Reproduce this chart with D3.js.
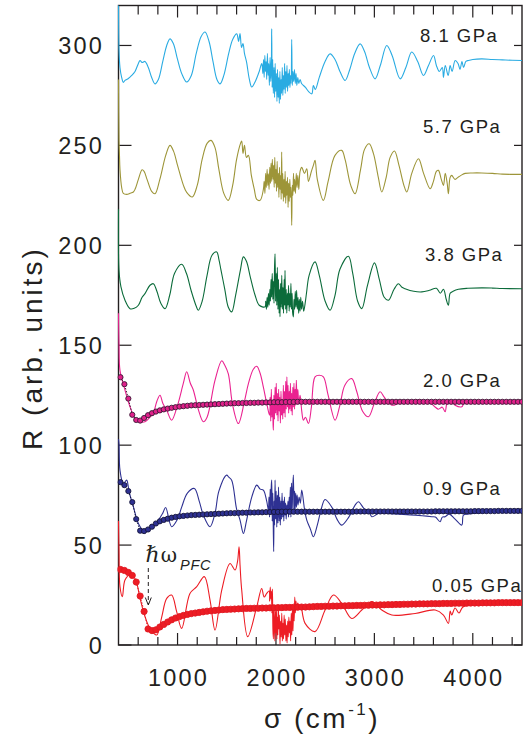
<!DOCTYPE html>
<html>
<head>
<meta charset="utf-8">
<script src="https://cdn.jsdelivr.net/npm/d3@7"></script>
<style>
  html, body { margin: 0; padding: 0; background: #fff; }
  svg { display: block; font-family: "Liberation Sans", Arial, sans-serif; }
</style>
</head>
<body>
<div id="chart"></div>
<script>
'use strict';

// measured reflectance, [sigma (cm-1), R]
var r81 = [[400,325],[405,298],[415,289],[432,284],[449,281.5],[466,282.5],[500,283.5],[534,285],[568,287],[602,291],[619,292.5],[640,291.5],[669,292],[703,289],[737,284],[771,280.8],[805,283],[850,292],[890,300],[923,303.3],[957,301],[1000,293],[1042,286],[1093,281.7],[1140,285],[1190,296],[1240,304.5],[1279,306.7],[1320,302],[1360,292],[1400,283],[1432,280.8],[1470,285],[1520,296],[1560,303],[1602,305.8],[1620,302],[1635,306],[1650,299],[1665,301],[1680,296],[1700,292],[1730,283],[1754,279.2],[1790,282],[1830,287],[1855,291],
  [1860,290],[1867,286],[1874,293],[1880,284],[1887,295],[1893,287],[1900,292],[1906,283],[1913,296],[1920,285],[1927,291],[1933,280],[1940,294],[1947,282],[1953,290],[1957,308.3],[1961,279],[1967,293],[1973,276],[1980,289],[1986,274],[1992,291],[1998,277],[2004,286],[2010,272],[2016,288],[2022,274],[2028,284],[2034,271],[2040,287],[2046,273],[2052,283],[2058,276],[2064,289],[2070,275],[2076,285],[2082,278],[2088,291],[2094,276],[2100,287],[2106,279],[2112,290],[2118,277],[2124,286],[2130,280],[2136,288],[2142,279],[2148,285],[2154,281],[2160,303],[2166,280],[2172,287],[2180,282],[2188,288],[2196,281],[2204,286],[2212,280],[2222,284],[2232,281],[2245,283],
  [2260,281],[2300,279],[2330,277],[2364,275.8],[2380,280],[2400,278],[2440,284],[2499,292],[2550,295.8],[2600,293],[2650,287],[2703,282.5],[2750,288],[2800,296],[2855,300.8],[2900,297],[2950,289],[3007,283.3],[3060,290],[3126,300],[3180,295],[3262,283.3],[3320,289],[3380,296.7],[3440,292],[3499,285],[3550,290],[3601,295],[3630,290],[3660,287],[3690,289],[3702,284],[3720,290],[3750,285],[3770,290],[3790,287],[3821,292.5],[3850,291],[3870,288],[3890,292],[3906,289],[3930,292],[3956,292.5],[4000,293],[4091,293.3],[4200,293],[4300,292.8],[4400,292.6],[4505,292.5]];

var r57 = [[400,283],[405,252.5],[410,245],[415,238],[432,229],[449,226],[483,225.5],[517,226],[551,226.7],[568,228],[602,233],[640,237.8],[660,237],[690,233],[737,227],[771,225.8],[820,233],[880,245],[923,250],[960,247],[1000,240],[1060,230],[1093,226.5],[1150,224.2],[1200,230],[1250,243],[1300,251],[1340,252.5],[1380,249],[1420,238],[1470,226],[1516,222.5],[1560,230],[1600,243],[1640,251],[1652,252.2],[1665,246],[1680,250],[1700,244],[1720,245],[1750,235],[1780,228],[1805,223],[1839,222.5],
  [1872,228],[1880,232],[1888,226],[1895,236],[1902,229],[1910,238],[1917,230],[1923,235.8],[1930,228],[1937,239],[1944,231],[1950,241],[1957,232],[1963,243],[1970,233],[1976,240],[1982,229],[1988,244],[1994,231],[2000,238],[2006,227],[2012,242],[2018,229],[2024,236],[2030,224],[2036,239],[2042,228],[2048,235],[2053,223],[2058,246.7],[2063,226],[2069,236],[2075,222],[2081,233],[2087,224],[2093,237],[2099,221],[2105,232],[2111,225],[2117,234],[2123,219],[2129,231],[2135,222],[2141,233],[2147,224],[2153,229],[2160,210],[2166,230],[2172,225],[2178,236],[2184,227],[2190,233],[2198,226],[2206,236],[2214,229],[2222,235],[2232,228],[2245,237],
  [2262,239],[2290,236],[2313,238.3],[2330,232],[2360,237],[2380,240],[2397,242.5],[2420,233],[2482,222.5],[2530,232],[2600,245],[2668,247.5],[2702,243],[2760,230],[2804,225.8],[2860,238],[2900,248],[2947,250.8],[2990,246],[3040,234],[3075,226.7],[3120,234],[3160,244],[3204,247.2],[3250,240],[3300,230],[3330,226.7],[3380,236],[3448,243.3],[3500,236],[3567,228.3],[3600,232],[3630,237],[3651,237.5],[3680,233],[3702,230],[3720,236],[3740,231],[3752,225.8],[3770,234],[3786,235],[3820,233],[3854,234.2],[3880,235],[3922,236],[4000,236.2],[4091,236.2],[4200,236],[4300,235.6],[4400,235.5],[4505,235.5]];

var r38 = [[400,218],[405,187.5],[425,179.2],[466,172.5],[517,168.3],[560,168.5],[602,170],[640,174],[669,175.8],[720,180],[754,180.8],[790,177],[830,171],[873,168.3],[920,175],[970,186],[1042,190.5],[1090,186],[1140,177],[1190,169.5],[1211,167.5],[1250,172],[1300,185],[1350,195],[1398,196.7],[1420,193],[1440,188],[1480,178],[1516,169],[1550,166.7],[1590,175],[1640,188],[1669,194.2],[1700,192],[1740,184],[1788,175],[1830,170],
  [1889,169.2],[1896,172],[1903,168],[1910,174],[1917,169],[1924,176],[1931,170],[1938,178],[1944,172],[1950,183],[1956,174],[1962,186],[1968,173],[1974,182],[1980,171],[1986,190],[1991,195.8],[1996,172],[2002,186],[2008,170],[2014,189],[2020,168],[2026,183],[2032,166],[2038,178],[2041,164.2],[2047,181],[2053,169],[2059,185],[2065,168],[2071,179],[2077,166],[2083,183],[2089,170],[2092,187.5],[2098,168],[2104,178],[2110,166],[2116,176],[2122,170],[2128,180],[2134,167],[2140,176],[2146,169],[2152,181],[2158,168],[2164,176],[2170,166],[2177,164.2],[2183,173],[2190,168],[2196,177],[2203,169],[2210,177.5],[2217,168],[2224,174],[2231,166],[2238,173],[2245,167],[2252,174],[2260,168],[2270,172],[2282,167],[2296,170.8],
  [2310,176],[2337,185],[2397,191.7],[2440,185],[2500,172],[2550,167.5],[2600,175],[2650,188],[2736,194.5],[2780,186],[2830,172],[2872,168.3],[2930,180],[3001,191.2],[3050,183],[3100,174],[3143,172.5],[3200,178],[3244,180.8],[3280,179],[3312,178.3],[3400,177],[3482,176.7],[3560,177.5],[3630,178.5],[3670,176],[3702,178],[3730,173],[3752,170],[3770,176],[3800,177],[3854,178],[3950,178.5],[4091,178.7],[4200,178.6],[4300,178.4],[4505,178.3]];

var r20 = [[400,166],[405,150.8],[415,137.5],[466,127.5],[517,119.2],[568,113.3],[600,112],[669,111.7],[720,114],[754,116],[790,122],[822,125],[850,121],[890,117.5],[940,112.5],[1000,120],[1059,131],[1093,136.7],[1130,131],[1161,127.5],[1210,118],[1262,111.7],[1300,114],[1381,132.5],[1449,142.2],[1480,140],[1516,135.7],[1560,120],[1618,110.8],[1680,122],[1720,130.8],[1770,138],[1805,139.5],[1839,136],[1872,129],[1910,120],
  [1935,115],[1941,124],[1947,112],[1953,128],[1959,114],[1965,122],[1971,110],[1974,107.5],[1979,125],[1985,113],[1991,129],[1997,116],[2003,131],[2009,115],[2015,126],[2021,112],[2027,128],[2033,117],[2039,124],[2045,111],[2051,127],[2057,115],[2063,123],[2069,113],[2075,130],[2081,116],[2087,127],[2093,114],[2099,132],[2105,118],[2111,134.2],[2117,119],[2123,130],[2129,116],[2135,127],[2141,118],[2147,131],[2153,117],[2159,126],[2165,115],[2171,129],[2177,119],[2183,131],[2189,118],[2195,128],[2201,120],[2207,132.5],[2214,122],[2222,128],[2232,121],[2245,125],[2262,117],
  [2279,112.5],[2300,114],[2330,110.8],[2360,119],[2397,134.2],[2440,135],[2482,134.2],[2530,125],[2601,112.5],[2650,120],[2700,130],[2770,133.3],[2820,127],[2880,117],[2940,114.2],[3000,121],[3058,126.7],[3100,124],[3177,120],[3250,121],[3312,121.7],[3400,122.5],[3482,122.5],[3560,121.5],[3620,119],[3651,118],[3690,119],[3719,116.7],[3740,121],[3786,121.7],[3820,120],[3888,119.2],[3910,121],[3956,122.2],[4100,122.2],[4300,122.2],[4505,122.2]];

var r09 = [[400,103],[405,100.8],[415,87.5],[449,80.8],[483,82.5],[500,79],[517,75],[551,69.2],[602,60.8],[652,57.5],[700,58],[737,59],[805,62.5],[850,66],[879,68.8],[940,59.2],[1000,63],[1042,69],[1100,76],[1171,78.3],[1220,72],[1262,65],[1330,59.2],[1381,66],[1420,77],[1499,85],[1520,84],[1550,82.5],[1600,68],[1635,62.5],[1669,55.8],[1700,62],[1754,74],[1805,80],[1840,78],[1872,77.5],[1906,72],
  [1923,67.5],[1929,74],[1935,64],[1941,78],[1947,66],[1953,80],[1957,82.5],[1962,62],[1968,76],[1973,58],[1977,46.7],[1981,72],[1986,60],[1991,82.5],[1996,63],[2002,77],[2008,59],[2014,75],[2020,61],[2026,79],[2032,62],[2038,74],[2044,60],[2050,72],[2056,63],[2062,76],[2068,64],[2074,72],[2080,62],[2086,74],[2092,65],[2098,71],[2104,63],[2110,70],[2116,66],[2122,72],[2128,64],[2134,74],[2140,66],[2146,79],[2152,64],[2158,81],[2164,67],[2170,78],[2177,85],[2183,66],[2189,77],[2195,68],[2201,76],[2208,69],[2215,75],[2224,70],[2235,74],[2248,71],[2262,77.5],
  [2290,68],[2313,62.5],[2350,58],[2380,54.2],[2420,60],[2460,68],[2499,72.8],[2567,69],[2620,63],[2668,60],[2740,64],[2804,70],[2838,71.7],[2900,68],[2940,67.5],[2974,64.2],[3050,66],[3143,65.8],[3250,65.5],[3414,65],[3584,64.2],[3620,64],[3668,61.7],[3690,64],[3719,64.2],[3760,65.5],[3820,63],[3888,60],[3905,65],[3950,65.5],[4050,66],[4200,66.5],[4350,66.7],[4505,66.7]];

var r005 = [[400,62],[405,47.5],[415,29.2],[439,24.2],[466,32.5],[517,35],[568,33.3],[619,23.3],[669,14.2],[720,8.3],[788,5],[839,14],[890,23.3],[940,25],[991,16.7],[1042,8.3],[1126,25.8],[1195,29.2],[1272,34.2],[1330,22.5],[1381,7.5],[1449,27.5],[1533,40.8],[1584,37.5],[1610,42],[1625,49.2],[1635,40],[1652,27.5],[1713,4.2],[1805,19.2],[1855,28.3],[1880,24],[1906,25.8],
  [1930,27],[1936,22],[1942,29],[1948,23],[1954,27],[1959,16],[1964,28],[1969,8],[1974,3],[1979,20],[1984,10],[1989,2],[1994,17],[1999,6],[2004,19],[2009,3],[2014,14],[2019,5],[2024,20],[2029,8],[2035,15],[2041,0.5],[2047,12],[2053,4],[2059,16],[2065,2],[2071,11],[2077,3],[2083,15],[2089,5],[2095,13],[2101,2],[2107,10],[2113,1],[2119,12],[2125,4],[2131,14],[2137,6],[2143,12],[2149,2],[2155,16],[2161,5],[2167,18],[2173,7],[2179,20],[2185,12],[2191,24],[2197,16],[2203,22],[2211,18],[2222,21],[2235,19],[2250,20],
  [2296,10.8],[2397,6.7],[2499,17.5],[2584,25],[2668,20.8],[2770,13.3],[2872,17.5],[2974,21.7],[3075,17.5],[3177,15],[3414,15.8],[3618,17.5],[3702,15],[3752,10.8],[3770,17],[3786,15],[3820,18.5],[3860,16],[3900,19],[4091,20],[4300,20.8],[4505,21.2]];

// Drude-Lorentz fits, sampled every 40 cm-1 from 420 cm-1
var fitStart = 420, fitStep = 40;
var fit20 = [134.0,130.5,123.3,115.2,112.6,112.3,113.6,115.0,116.0,116.8,
  117.4,117.9,118.3,118.7,119.0,119.3,119.5,119.7,119.9,120.0,
  120.1,120.2,120.3,120.4,120.5,120.6,120.7,120.8,120.9,121.0,
  121.0,121.1,121.1,121.2,121.2,121.3,121.3,121.4,121.4,121.5,
  121.5,121.5,121.6,121.6,121.6,121.7,121.7,121.7,121.7,121.7,
  121.7,121.7,121.7,121.7,121.7,121.7,121.7,121.7,121.7,121.7,
  121.7,121.7,121.7,121.7,121.7,121.7,121.7,121.7,121.7,121.7,
  121.7,121.7,121.7,121.7,121.7,121.7,121.7,121.7,121.7,121.7,
  121.7,121.7,121.7,121.7,121.7,121.7,121.7,121.7,121.7,121.7,
  121.7,121.7,121.7,121.7,121.7,121.7,121.7,121.7,121.7,121.7,
  121.7,121.7,121.7];
var fit09 = [81.5,80.0,77.0,71.5,63.0,57.2,57.0,57.8,59.2,60.8,
  61.9,62.6,63.2,63.7,64.1,64.4,64.6,64.8,65.0,65.1,
  65.2,65.3,65.4,65.5,65.6,65.7,65.8,65.9,66.0,66.0,
  66.1,66.2,66.2,66.3,66.3,66.4,66.4,66.5,66.5,66.6,
  66.6,66.7,66.7,66.7,66.7,66.7,66.7,66.7,66.7,66.7,
  66.7,66.7,66.7,66.7,66.7,66.7,66.7,66.7,66.7,66.7,
  66.8,66.8,66.8,66.8,66.8,66.8,66.8,66.8,66.8,66.8,
  66.8,66.8,66.8,66.8,66.8,66.8,66.8,66.8,66.8,66.8,
  66.9,66.9,66.9,66.9,66.9,66.9,66.9,66.9,66.9,66.9,
  67.0,67.0,67.0,67.0,67.0,67.0,67.1,67.1,67.1,67.1,
  67.1,67.1,67.1];
var fit005 = [37.8,37.3,36.3,34.8,31.5,24.5,16.8,8.0,7.2,7.6,
  9.0,10.3,11.5,12.6,13.5,14.2,14.8,15.3,15.7,16.0,
  16.3,16.6,16.9,17.1,17.3,17.5,17.7,17.8,17.9,18.0,
  18.1,18.2,18.3,18.3,18.4,18.4,18.5,18.5,18.6,18.6,
  18.7,18.7,18.8,18.8,18.9,18.9,19.0,19.0,19.1,19.2,
  19.3,19.3,19.4,19.4,19.5,19.5,19.6,19.6,19.7,19.7,
  19.8,19.8,19.9,19.9,20.0,20.0,20.1,20.1,20.2,20.2,
  20.3,20.3,20.4,20.4,20.5,20.5,20.6,20.6,20.6,20.7,
  20.7,20.7,20.8,20.8,20.8,20.9,20.9,20.9,21.0,21.0,
  21.0,21.0,21.1,21.1,21.1,21.1,21.2,21.2,21.2,21.2,
  21.2,21.2,21.2];

var series = [
  { data: r81,  color: '#29abe2', label: '8.1 GPa',  lx: 420, ly: 41.5 },
  { data: r57,  color: '#9d9538', label: '5.7 GPa',  lx: 423, ly: 133 },
  { data: r38,  color: '#0b6b3a', label: '3.8 GPa',  lx: 425, ly: 260.5 },
  { data: r20,  color: '#ea2290', label: '2.0 GPa',  lx: 423, ly: 386.5 },
  { data: r09,  color: '#2e3192', label: '0.9 GPa',  lx: 423, ly: 495 },
  { data: r005, color: '#ed1c24', label: '0.05 GPa', lx: 432, ly: 591.5 }
];
var fits = [
  { data: fit20,  fill: '#e0208a', stroke: '#3a1a35', r: 2.6 },
  { data: fit09,  fill: '#2e3192', stroke: '#15153a', r: 2.6 },
  { data: fit005, fill: '#ed1c24', stroke: '#e01a22', r: 3.1 }
];

var xTicks = [1000, 2000, 3000, 4000];
var yTicks = [0, 50, 100, 150, 200, 250, 300];

var W = 523, H = 741;
var pLeft = 118.5, pRight = 522, pTop = 5.5, pBottom = 645;
var ink = '#231f20';

var svg = d3.select('#chart').append('svg')
  .attr('width', W).attr('height', H);

var x = d3.scaleLinear().domain([400, 4500]).range([pLeft, pRight]);
var y = d3.scaleLinear().domain([0, 320]).range([pBottom, pTop]);

svg.append('defs').append('clipPath').attr('id', 'plot')
  .append('rect')
    .attr('x', pLeft - 1).attr('y', pTop)
    .attr('width', pRight - pLeft + 1).attr('height', pBottom - pTop);

// frame
var axes = svg.append('g').attr('stroke', ink).attr('fill', 'none');
axes.append('rect')
  .attr('x', pLeft).attr('y', pTop)
  .attr('width', pRight - pLeft).attr('height', pBottom - pTop)
  .attr('stroke-width', 1.4);

// x ticks, top and bottom, pointing inward
var xMinor = d3.range(600, 4500, 200);
xMinor.forEach(function (v) {
  var major = v % 1000 === 0, len = major ? 12 : 8;
  axes.append('line').attr('x1', x(v)).attr('x2', x(v))
    .attr('y1', pBottom).attr('y2', pBottom - len).attr('stroke-width', 1.2);
  axes.append('line').attr('x1', x(v)).attr('x2', x(v))
    .attr('y1', pTop).attr('y2', pTop + (major ? 12 : 9)).attr('stroke-width', 1.2);
});
yTicks.forEach(function (v) {
  axes.append('line').attr('x1', pLeft).attr('x2', pLeft + 13)
    .attr('y1', y(v)).attr('y2', y(v)).attr('stroke-width', 1.2);
  axes.append('line').attr('x1', pRight).attr('x2', pRight - 8)
    .attr('y1', y(v)).attr('y2', y(v)).attr('stroke-width', 1.2);
});

// tick labels
svg.append('g').selectAll('text').data(xTicks).enter().append('text')
  .attr('x', function (d) { return x(d) + 1; })
  .attr('y', 686)
  .attr('text-anchor', 'middle')
  .attr('font-size', 23.5).attr('letter-spacing', 2.2)
  .attr('fill', ink)
  .text(function (d) { return d; });

svg.append('g').selectAll('text').data(yTicks).enter().append('text')
  .attr('x', 104)
  .attr('y', function (d) { return y(d) + 8.5; })
  .attr('text-anchor', 'end')
  .attr('font-size', 23.5).attr('letter-spacing', 2.2)
  .attr('fill', ink)
  .text(function (d) { return d; });

// axis titles
svg.append('text')
  .attr('transform', 'translate(42,348) rotate(-90)')
  .attr('text-anchor', 'middle')
  .attr('font-size', 28).attr('letter-spacing', 3)
  .attr('fill', ink)
  .text('R (arb. units)');

var xt = svg.append('text')
  .attr('x', 322).attr('y', 728)
  .attr('text-anchor', 'middle')
  .attr('font-size', 28).attr('letter-spacing', 2.5)
  .attr('fill', ink);
xt.append('tspan').text('σ (cm');
xt.append('tspan').attr('font-size', 17).attr('dy', -13).text('-1');
xt.append('tspan').attr('dy', 13).text(')');

// curves
var plot = svg.append('g').attr('clip-path', 'url(#plot)');
var line = d3.line()
  .x(function (d) { return x(d[0]); })
  .y(function (d) { return y(d[1]); })
  .curve(d3.curveCatmullRom.alpha(0.5));

series.forEach(function (s) {
  plot.append('path')
    .attr('d', line(s.data))
    .attr('fill', 'none')
    .attr('stroke', s.color)
    .attr('stroke-width', 1.1);
});

// fits: dark dotted line with circles
fits.forEach(function (f) {
  var pts = f.data.map(function (v, i) { return [fitStart + i * fitStep, v]; });
  plot.append('path')
    .attr('d', d3.line().x(function (d) { return x(d[0]); }).y(function (d) { return y(d[1]); })(pts))
    .attr('fill', 'none')
    .attr('stroke', f.stroke)
    .attr('stroke-width', 1)
    .attr('stroke-dasharray', '1.5,1.5');
  plot.append('g').selectAll('circle').data(pts).enter().append('circle')
    .attr('cx', function (d) { return x(d[0]); })
    .attr('cy', function (d) { return y(d[1]); })
    .attr('r', f.r)
    .attr('fill', f.fill)
    .attr('stroke', f.stroke)
    .attr('stroke-width', 0.9);
});

// pressure labels
svg.append('g').selectAll('text').data(series).enter().append('text')
  .attr('x', function (d) { return d.lx; })
  .attr('y', function (d) { return d.ly; })
  .attr('font-size', 18.5).attr('letter-spacing', 1.5)
  .attr('fill', ink)
  .text(function (d) { return d.label; });

// hbar omega_PFC annotation with dashed arrow
var ann = svg.append('text').attr('x', 145.5).attr('y', 561.5).attr('fill', ink);
ann.append('tspan').attr('font-family', 'DejaVu Serif, serif').attr('font-size', 22).text('ℏ');
ann.append('tspan').attr('font-family', 'DejaVu Serif, serif').attr('font-size', 20).attr('dx', 1).text('ω');
ann.append('tspan').attr('font-size', 14.5).attr('font-style', 'italic')
  .attr('dx', 3).attr('dy', 8).attr('letter-spacing', 0.8).text('PFC');

svg.append('line')
  .attr('x1', 148.3).attr('x2', 148.3).attr('y1', 568).attr('y2', 604)
  .attr('stroke', ink).attr('stroke-width', 1).attr('stroke-dasharray', '4,3');
svg.append('path')
  .attr('d', 'M145.3,597.5 L148.3,605 L151.3,597.5')
  .attr('fill', 'none').attr('stroke', ink).attr('stroke-width', 1);
</script>
</body>
</html>
